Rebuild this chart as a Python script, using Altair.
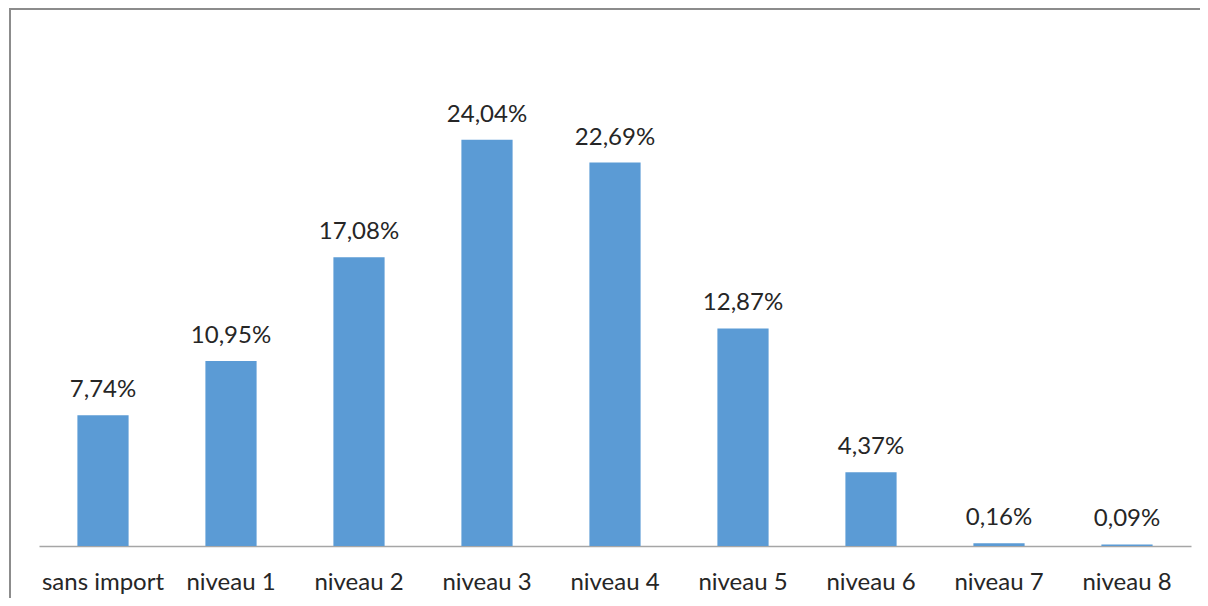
import altair as alt
import pandas as pd

categories = ["sans import", "niveau 1", "niveau 2", "niveau 3", "niveau 4",
              "niveau 5", "niveau 6", "niveau 7", "niveau 8"]
values = [7.74, 10.95, 17.08, 24.04, 22.69, 12.87, 4.37, 0.16, 0.09]

df = pd.DataFrame({"cat": categories, "v": values})

FONT = "Lato"
TXT = "#262626"

x = alt.X("cat:N", sort=categories, title=None,
          scale=alt.Scale(paddingInner=0.6, paddingOuter=0.3),
          axis=alt.Axis(labelAngle=0, ticks=False, labelPadding=43,
                        labelBaseline="alphabetic",
                        labelFontSize=24, labelFont=FONT, labelColor=TXT,
                        domainColor="#a6a6a6", domainWidth=1.5))
y = alt.Y("v:Q", title=None, scale=alt.Scale(domain=[0, 30]), axis=None)

base = alt.Chart(df)

bars = base.mark_bar(color="#5B9BD5").encode(x=x, y=y)

text = base.transform_calculate(
    lbl="replace(format(datum.v, '.2f'), '.', ',') + '%'"
).mark_text(baseline="alphabetic", dy=-18, fontSize=24, font=FONT,
            color=TXT).encode(x=x, y=y, text="lbl:N")

one = base.transform_filter("datum.cat == 'sans import'")
frame_top = one.mark_rule(stroke="#8c8c8c", strokeWidth=2).encode(
    x=alt.value(-29), x2=alt.value(1300), y=alt.value(-30)
)
frame_left = one.mark_rule(stroke="#8c8c8c", strokeWidth=2).encode(
    x=alt.value(-29), y=alt.value(-31), y2=alt.value(800)
)

chart = alt.layer(frame_top, frame_left, bars, text).properties(
    width=1152, height=507,
    background="white",
    autosize=alt.AutoSizeParams(type="none"),
    padding={"left": 31, "top": 31, "right": 9, "bottom": 52},
).configure_view(stroke=None, strokeWidth=0)

chart.save("out.html", embed_options={"renderer": "svg", "actions": False})
